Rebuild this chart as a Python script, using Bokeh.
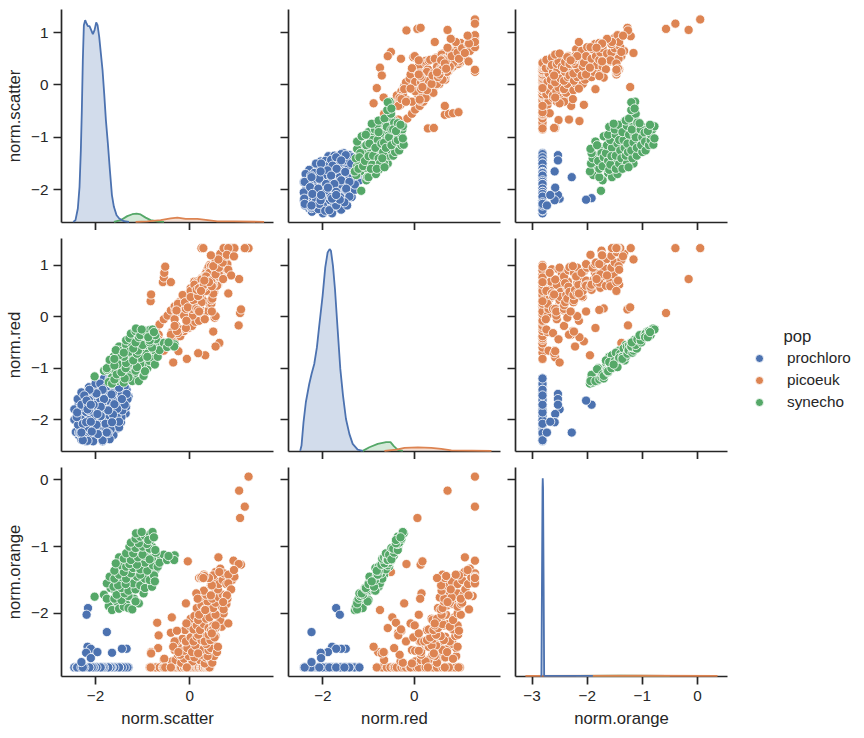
from bokeh.embed import file_html
from bokeh.resources import INLINE
from bokeh.plotting import figure
from bokeh.layouts import column, row
from bokeh.models import Range1d, FixedTicker, Legend, LegendItem, Label

populations = ["prochloro", "picoeuk", "synecho"]
colors = ["#4c72b0", "#dd8452", "#55a868"]
variables = ["norm.scatter", "norm.red", "norm.orange"]

# (norm.scatter, norm.red, norm.orange)
prochloro = [
    (-1.36,-1.88,-2.81),(-1.36,-1.65,-2.81),(-1.36,-1.47,-2.81),
    (-1.46,-2.05,-2.81),(-1.46,-1.86,-2.81),(-1.46,-1.63,-2.81),(-1.46,-1.42,-2.81),
    (-1.56,-2.18,-2.81),(-1.56,-1.98,-2.81),(-1.56,-1.77,-2.81),(-1.56,-1.55,-2.81),(-1.56,-1.35,-2.81),
    (-1.65,-2.28,-2.81),(-1.65,-2.10,-2.81),(-1.65,-1.92,-2.81),(-1.65,-1.73,-2.81),(-1.65,-1.56,-2.81),(-1.65,-1.38,-2.81),(-1.65,-1.25,-2.81),
    (-1.76,-2.35,-2.81),(-1.76,-2.17,-2.81),(-1.76,-1.97,-2.81),(-1.76,-1.81,-2.81),(-1.76,-1.63,-2.81),(-1.76,-1.46,-2.81),(-1.76,-1.28,-2.81),
    (-1.86,-2.38,-2.81),(-1.86,-2.22,-2.81),(-1.86,-2.02,-2.81),(-1.86,-1.85,-2.81),(-1.86,-1.67,-2.81),(-1.86,-1.50,-2.81),(-1.86,-1.33,-2.81),
    (-1.96,-2.36,-2.81),(-1.96,-2.17,-2.81),(-1.96,-1.99,-2.81),(-1.96,-1.81,-2.81),(-1.96,-1.63,-2.81),(-1.96,-1.42,-2.81),(-1.96,-1.35,-2.81),
    (-2.06,-2.37,-2.81),(-2.06,-2.20,-2.81),(-2.06,-2.02,-2.81),(-2.06,-1.84,-2.81),(-2.06,-1.65,-2.81),(-2.06,-1.47,-2.81),(-2.06,-1.38,-2.81),
    (-2.16,-2.33,-2.81),(-2.16,-2.12,-2.81),(-2.16,-1.94,-2.81),(-2.16,-1.75,-2.81),(-2.16,-1.57,-2.81),(-2.16,-1.46,-2.81),
    (-2.26,-2.35,-2.81),(-2.26,-2.16,-2.81),(-2.26,-1.97,-2.81),(-2.26,-1.79,-2.81),(-2.26,-1.62,-2.81),(-2.26,-1.50,-2.81),
    (-2.36,-2.30,-2.81),(-2.36,-2.12,-2.81),(-2.36,-1.92,-2.81),(-2.36,-1.72,-2.81),(-2.36,-1.60,-2.81),
    (-1.30,-1.55,-2.81),(-1.34,-1.42,-2.81),(-1.38,-1.36,-2.81),(-1.35,-1.75,-2.81),(-1.45,-1.95,-2.81),
    (-1.50,-2.15,-2.81),(-1.62,-2.30,-2.81),(-1.70,-2.38,-2.81),(-1.85,-2.42,-2.81),(-2.05,-2.42,-2.81),
    (-2.20,-2.42,-2.81),(-2.30,-2.39,-2.81),(-2.42,-2.24,-2.81),(-2.45,-2.00,-2.81),(-2.45,-1.80,-2.81),
    (-2.38,-1.60,-2.81),(-2.30,-1.47,-2.81),(-2.14,-1.37,-2.81),(-2.00,-1.30,-2.81),(-1.82,-1.20,-2.81),
    (-1.70,-1.20,-2.81),(-1.58,-1.22,-2.81),(-1.45,-1.28,-2.81),
    (-1.50,-1.65,-2.81),(-1.55,-1.95,-2.81),(-1.60,-1.45,-2.81),(-1.70,-1.45,-2.81),(-1.90,-1.30,-2.81),
    (-1.90,-1.60,-2.81),(-2.00,-1.50,-2.81),(-2.10,-1.70,-2.81),(-2.20,-1.60,-2.81),(-2.20,-1.85,-2.81),
    (-2.30,-1.75,-2.81),(-2.30,-2.00,-2.81),(-2.00,-2.20,-2.81),(-2.20,-2.15,-2.81),(-2.35,-2.25,-2.81),
    (-1.75,-1.35,-2.81),(-1.90,-2.30,-2.81),(-1.45,-1.70,-2.81),(-2.37,-2.10,-2.81),(-2.40,-1.95,-2.81),
    (-1.32,-1.60,-2.81),(-1.43,-1.82,-2.81),(-1.38,-1.71,-2.81),(-1.44,-1.49,-2.81),(-1.50,-2.04,-2.81),
    (-1.54,-1.79,-2.81),(-1.50,-1.38,-2.81),(-1.68,-2.19,-2.81),(-1.63,-1.90,-2.81),(-1.60,-1.70,-2.81),
    (-1.66,-1.51,-2.81),(-1.66,-1.31,-2.81),(-1.68,-1.20,-2.81),(-1.85,-2.40,-2.81),(-1.73,-2.26,-2.81),
    (-1.79,-2.08,-2.81),(-1.73,-1.82,-2.81),(-1.82,-1.60,-2.81),(-1.85,-1.42,-2.81),(-1.95,-2.28,-2.81),
    (-1.98,-2.10,-2.81),(-1.89,-1.93,-2.81),(-1.89,-1.75,-2.81),(-1.98,-1.49,-2.81),(-2.04,-1.93,-2.81),
    (-2.04,-1.71,-2.81),(-2.17,-2.41,-2.81),(-2.08,-2.23,-2.81),(-2.14,-2.01,-2.81),(-2.14,-1.82,-2.81),
    (-2.14,-1.62,-2.81),(-2.13,-1.42,-2.81),(-2.32,-2.26,-2.81),(-2.27,-2.08,-2.81),(-2.39,-1.86,-2.81),
    (-2.30,-1.71,-2.81),(-2.24,-1.53,-2.81),(-2.27,-2.40,-2.81),
    (-2.16,-1.71,-1.92),(-2.19,-1.63,-2.02),(-1.76,-2.25,-2.28),(-2.17,-1.80,-2.50),(-1.34,-1.50,-2.53),
    (-1.44,-1.60,-2.53),(-2.10,-1.71,-2.53),(-1.96,-1.89,-2.58),(-1.65,-2.05,-2.59),(-2.20,-2.05,-2.59),
    (-2.10,-2.04,-2.67),(-2.30,-2.25,-2.73),
]
picoeuk = [
    (-.85,-.82,-2.81),(-.78,-.40,-2.81),(-.70,-.70,-2.81),(-.72,-.25,-2.81),(-.62,-.60,-2.81),(-.64,-.15,-2.81),
    (-.55,-.50,-2.81),(-.55,-.05,-2.81),(-.46,-.52,-2.81),(-.47,.02,-2.81),(-.38,-.45,-2.81),(-.40,.12,-2.81),
    (-.30,-.42,-2.81),(-.32,.20,-2.81),(-.28,-.18,-2.81),(-.22,.28,-2.81),(-.20,-.38,-2.81),(-.18,.08,-2.81),
    (-.12,-.28,-2.81),(-.12,.38,-2.81),(-.08,.10,-2.81),(-.03,-.22,-2.81),(-.02,.45,-2.81),(.02,.05,-2.81),
    (.05,-.18,-2.81),(.08,.25,-2.81),(.10,.55,-2.81),(.12,-.10,-2.81),(.16,.32,-2.81),(.18,.68,-2.81),(.20,-.08,-2.81),
    (.24,.42,-2.81),(.26,.75,-2.81),(.28,.05,-2.81),(.32,.50,-2.81),(.33,.82,-2.81),(.36,.10,-2.81),(.38,.62,-2.81),
    (.40,.90,-2.81),(.42,.25,-2.81),(.43,.72,-2.81),(.42,1.0,-2.81),
    (-.38,-.30,-2.72),(-.30,.12,-2.70),(-.18,-.25,-2.74),(-.12,.35,-2.68),(.06,.02,-2.72),(.14,.55,-2.66),(.22,.15,-2.70),
    (.32,-.05,-2.75),(.34,.68,-2.66),(.46,.25,-2.72),(.44,.85,-2.68),(.48,.50,-2.74),(.52,.72,-2.64),(-.02,.45,-2.64),
    (.10,.68,-2.66),(-.25,-.32,-2.62),(.25,.40,-2.62),(.38,.92,-2.64),(-.20,.15,-2.62),
    (-.32,-.05,-2.55),(-.25,.25,-2.50),(-.12,.02,-2.56),(-.05,.42,-2.52),(.05,.15,-2.58),(.15,.58,-2.50),(.22,.10,-2.56),
    (.30,.30,-2.48),(.28,.72,-2.54),(.46,.32,-2.50),(.40,.62,-2.55),(.52,.48,-2.48),(.45,.92,-2.52),(.58,.72,-2.58),
    (.12,.38,-2.48),(.35,.85,-2.46),(.60,.95,-2.50),
    (-.28,.12,-2.42),(-.15,.42,-2.38),(-.08,.15,-2.42),(.02,.55,-2.36),(.08,.22,-2.42),(.15,.68,-2.35),(.25,.28,-2.40),
    (.35,.55,-2.34),(.32,.78,-2.42),(.48,.35,-2.36),(.44,.65,-2.40),(.55,.90,-2.34),(.52,.58,-2.34),(.18,.48,-2.32),(.40,.96,-2.32),
    (-.10,.28,-2.25),(.02,.50,-2.20),(.08,.32,-2.24),(.15,.65,-2.18),(.22,.42,-2.25),(.30,.75,-2.16),(.40,.52,-2.22),
    (.50,.45,-2.18),(.48,.85,-2.24),(.60,.62,-2.16),(.62,.95,-2.18),(.68,.78,-2.20),(.45,.98,-2.26),
    (.02,.38,-2.08),(.10,.62,-2.04),(.18,.40,-2.10),(.28,.70,-2.02),(.35,.50,-2.08),(.45,.62,-2.00),(.42,.88,-2.06),
    (.58,.60,-2.02),(.65,.85,-2.10),(.72,.95,-2.00),(.55,1.02,-2.02),
    (.15,.52,-1.92),(.25,.72,-1.88),(.32,.58,-1.94),(.42,.85,-1.86),(.50,.62,-1.92),(.60,.78,-1.84),(.68,.95,-1.90),
    (.78,1.02,-1.86),(.72,1.20,-1.94),(.55,1.05,-1.84),(.38,.65,-1.82),
    (.22,.56,-1.76),(.35,.78,-1.72),(.48,.66,-1.78),(.52,.95,-1.70),(.62,.82,-1.76),(.70,1.08,-1.72),(.80,1.02,-1.78),
    (.78,1.28,-1.74),(.30,.60,-1.66),(.60,1.12,-1.64),
    (.45,.70,-1.58),(.55,.82,-1.52),(.62,.95,-1.56),(.70,1.05,-1.50),(.78,1.18,-1.56),(.85,1.25,-1.46),(.90,1.33,-1.50),
    (.20,.55,-1.47),(.30,.62,-1.42),(.55,1.10,-1.38),(.65,1.22,-1.33),(.72,1.33,-1.40),(.50,.98,-1.43),
    (1.25,1.33,.05),(1.05,.73,-.16),(1.17,1.33,-.40),(1.07,.07,-.57),(.93,1.33,-1.21),(1.09,.14,-1.27),(1.04,-.17,-1.26),
    (-.04,.18,-1.22),(.61,1.11,-1.16),(.95,1.33,-1.45),(.82,.91,-1.42),(.63,-.51,-1.38),(.82,1.33,-1.55),(.88,.80,-1.64),
    (.79,1.20,-1.73),(.82,.45,-2.15),(.71,.73,-1.83),(.47,.59,-1.58),(.41,.67,-1.47),(.31,.70,-1.44),(.24,.50,-1.47),
    (.14,.16,-1.70),(.17,.13,-1.78),(-.08,-.22,-1.85),(.20,.10,-2.02),(-.07,-.08,-2.15),(-.38,-.48,-2.06),(-.40,-.35,-2.29),
    (-.27,-.28,-2.26),(-.32,-.18,-2.42),(-.69,-.40,-2.14),(-.66,-.35,-2.33),(-.67,-.44,-2.52),(-.82,-.66,-2.59),
    (-.55,-.66,-2.70),(-.82,-.79,-2.58),(-.35,-.89,-2.50),(.55,-.58,-2.22),(.50,-.29,-2.24),(.53,-.02,-2.36),
    (.33,-.75,-1.95),(.18,-.71,-2.60),(-.06,-.82,-2.81),(-.24,-.67,-2.58),(-.83,.30,-2.81),(-.82,.43,-2.60),
    (-.57,.67,-2.81),(-.55,.76,-2.81),(-.54,.85,-2.68),(-.52,.97,-2.81),(-.40,.67,-2.81),(.25,1.33,-1.46),(.29,1.33,-1.47),
    (.45,1.19,-1.73),(.94,1.17,-1.35),(.55,.01,-2.18),(.47,.10,-2.30),
]
synecho = [
    (-1.65,-1.18,-1.85),(-1.55,-1.25,-1.82),(-1.35,-1.12,-1.86),(-1.18,-1.12,-1.78),(-1.68,-.95,-1.62),(-1.58,-1.05,-1.66),
    (-1.42,-.92,-1.65),(-1.25,-.98,-1.60),(-1.10,-.82,-1.62),(-.90,-1.0,-1.56),(-1.55,-.78,-1.50),(-1.42,-.95,-1.52),
    (-1.28,-.82,-1.50),(-1.15,-.88,-1.46),(-1.00,-.92,-1.50),(-.88,-.72,-1.42),(-1.45,-.62,-1.33),(-1.30,-.76,-1.34),
    (-1.15,-.62,-1.30),(-1.00,-.76,-1.30),(-.85,-.62,-1.32),(-.72,-.70,-1.34),(-1.50,-.58,-1.16),(-1.32,-.60,-1.18),
    (-1.15,-.54,-1.15),(-1.02,-.62,-1.18),(-.88,-.58,-1.10),(-.65,-.50,-1.13),(-1.20,-.38,-1.05),(-1.05,-.46,-1.06),
    (-.92,-.44,-1.02),(-.80,-.35,-1.00),(-1.18,-.35,-.97),(-1.0,-.30,-.92),(-.85,-.34,-.92),
    (-1.72,-1.27,-1.89),(-1.65,-1.30,-1.95),(-1.50,-1.20,-1.93),(-1.40,-1.28,-1.90),(-1.30,-1.13,-1.92),(-1.22,-1.25,-1.94),(-1.08,-1.25,-1.85),
    (-2.02,-1.16,-1.75),(-1.82,-1.05,-1.72),(-1.76,-1.03,-1.78),(-1.60,-1.22,-1.78),(-1.45,-1.00,-1.80),(-1.30,-1.18,-1.74),(-1.15,-1.02,-1.82),
    (-1.55,-1.12,-1.72),(-1.38,-1.20,-1.70),(-.98,-1.15,-1.70),
    (-1.76,-1.00,-1.55),(-1.62,-.78,-1.60),(-1.45,-1.08,-1.62),(-1.30,-.85,-1.66),(-1.15,-1.05,-1.64),(-1.52,-.92,-1.58),(-1.20,-.75,-1.55),
    (-1.05,-.92,-1.58),(-.95,-1.06,-1.62),(-1.36,-1.0,-1.56),(-.80,-.88,-1.60),
    (-1.70,-.84,-1.45),(-1.60,-.95,-1.48),(-1.50,-.66,-1.42),(-1.35,-.90,-1.48),(-1.12,-.98,-1.45),(-.95,-.70,-1.48),(-.85,-.86,-1.50),
    (-.76,-.82,-1.43),(-1.25,-.72,-1.40),(-1.40,-.78,-1.38),(-1.05,-.80,-1.42),(-.74,-.93,-1.52),
    (-1.50,-.75,-1.28),(-1.35,-.55,-1.30),(-1.20,-.85,-1.32),(-1.05,-.62,-1.34),(-.90,-.78,-1.36),(-.78,-.58,-1.28),(-.68,-.78,-1.30),
    (-1.60,-.82,-1.36),(-1.28,-.68,-1.26),(-.95,-.55,-1.24),(-1.12,-.72,-1.27),(-.64,-.65,-1.24),
    (-1.57,-.65,-1.25),(-1.40,-.70,-1.18),(-1.25,-.50,-1.20),(-1.10,-.66,-1.16),(-.95,-.45,-1.14),(-.80,-.60,-1.17),(-.55,-.51,-1.12),
    (-.48,-.59,-1.20),(-.32,-.54,-1.13),(-.33,-.58,-1.20),(-.45,-.50,-1.14),(-1.35,-.46,-1.10),(-1.2,-.62,-1.10),(-1.0,-.55,-1.12),
    (-.85,-.50,-1.19),(-.72,-.44,-1.09),
    (-1.28,-.42,-1.00),(-1.15,-.50,-1.02),(-1.00,-.36,-1.00),(-.85,-.46,-1.03),(-.73,-.36,-1.05),(-.91,-.36,-.96),(-1.25,-.33,-.94),(-1.08,-.40,-.95),
    (-1.15,-.28,-.88),(-1.05,-.36,-.85),(-.95,-.28,-.84),(-.85,-.26,-.82),(-.79,-.25,-.78),(-1.14,-.23,-.80),(-1.02,-.25,-.78),(-.88,-.40,-.90),(-.76,-.30,-.86),
]

# Density curves of the diagonal, as fractions of the panel height
kde_scatter_x = [
    [-2.475,-2.426,-2.376,-2.340,-2.312,-2.291,-2.270,-2.248,-2.220,-2.191,-2.163,-2.128,-2.092,-2.057,-2.021,-1.986,-1.957,-1.922,-1.887,-1.851,-1.816,-1.780,-1.738,-1.695,-1.652,-1.610,-1.553,-1.496,-1.397,-1.29],
    [-1.149,-.90,-.617,-.404,-.262,-.085,.163,.34,.589,.943,1.58],
    [-1.61,-1.468,-1.326,-1.22,-1.128,-1.043,-.936,-.83,-.688,-.546],
]
kde_scatter_y = [
    [0,.008,.063,.165,.338,.526,.761,.926,.950,.934,.922,.922,.903,.884,.903,.939,.926,.871,.793,.714,.604,.479,.369,.243,.126,.071,.031,.016,.003,0],
    [0,.002,.008,.016,.02,.014,.014,.009,.002,.002,0],
    [0,.008,.027,.036,.039,.035,.02,.008,.002,0],
]
kde_red_x = [
    [-2.498,-2.469,-2.425,-2.374,-2.30,-2.249,-2.19,-2.132,-2.081,-2.007,-1.949,-1.897,-1.853,-1.824,-1.78,-1.736,-1.678,-1.619,-1.56,-1.495,-1.421,-1.348,-1.238,-1.128],
    [-.652,-.396,-.212,.081,.374,.593,.813,1.692],
    [-1.128,-.982,-.799,-.615,-.520,-.447,-.359,-.249],
]
kde_red_y = [
    [0,.025,.135,.229,.315,.362,.409,.487,.589,.730,.864,.934,.950,.942,.871,.762,.574,.386,.260,.150,.080,.033,.006,0],
    [0,.006,.014,.016,.014,.009,.002,0],
    [0,.017,.033,.041,.041,.022,.005,0],
]
kde_orange_x = [
    [-2.85,-2.83,-2.81,-2.806,-2.80,-2.78,-2.75,-1.897],
    [-3.12,-1.0,.364],
    [-2.2,-1.4,-.5],
]
kde_orange_y = [
    [0,0,.90,.948,.90,0,0,0],
    [0,.001,0],
    [0,.001,0],
]
kde_x = [kde_scatter_x, kde_red_x, kde_orange_x]
kde_y = [kde_scatter_y, kde_red_y, kde_orange_y]

x_limits = [(-2.723, 1.78), (-2.754, 1.89), (-3.30, 0.545)]
y_limits = [(-2.625, 1.44), (-2.618, 1.517), (-2.946, 0.187)]
x_ticks = [[-2, 0], [-2, 0], [-3, -2, -1, 0]]
y_ticks = [[-2, -1, 0, 1], [-2, -1, 0, 1], [-2, -1, 0]]

INK = "#262626"
FONT = "Liberation Sans"
LEFT = [61, 8, 8]
RIGHT = [7, 7, 7]
TOP = [9, 8, 8]
BOTTOM = [8, 8, 50]
FRAME = (212, 213)
series = {"prochloro": prochloro, "picoeuk": picoeuk, "synecho": synecho}
columns = {name: list(zip(*pts)) for name, pts in series.items()}


def label_map(ticks, blank):
    return {t: ("" if blank else str(t).replace("-", "\u2212")) for t in ticks}


def panel(r, c):
    p = figure(
        width=LEFT[c] + FRAME[0] + RIGHT[c], height=TOP[r] + FRAME[1] + BOTTOM[r],
        x_range=Range1d(*x_limits[c]), y_range=Range1d(*y_limits[r]),
        min_border_left=LEFT[c], min_border_right=RIGHT[c],
        min_border_top=TOP[r], min_border_bottom=BOTTOM[r],
        toolbar_location=None, output_backend="svg", outline_line_color=None,
    )
    p.grid.visible = False
    for ax, ticks, blank, name, label_gap, name_gap in (
        (p.xaxis[0], x_ticks[c], r != 2, variables[c] if r == 2 else None, 6, 5),
        (p.yaxis[0], y_ticks[r], c != 0, variables[r] if c == 0 else None, 5, 4),
    ):
        ax.ticker = FixedTicker(ticks=ticks)
        ax.major_label_overrides = label_map(ticks, blank)
        ax.minor_tick_line_color = None
        ax.major_tick_in = 0
        ax.major_tick_out = 8
        ax.major_tick_line_width = 1.7
        ax.major_tick_line_color = INK
        ax.axis_line_width = 1.7
        ax.axis_line_color = INK
        ax.major_label_text_color = INK
        ax.major_label_text_font = FONT
        ax.major_label_text_font_size = "0px" if blank else "15.3px"
        ax.major_label_standoff = 0 if blank else label_gap
        if name:
            ax.axis_label = name
            ax.axis_label_text_font = FONT
            ax.axis_label_text_font_size = "16.7px"
            ax.axis_label_text_font_style = "normal"
            ax.axis_label_text_color = INK
            ax.axis_label_standoff = name_gap
    return p


figs = []
for r in range(3):
    line = []
    for c in range(3):
        p = panel(r, c)
        if r == c:
            p.extra_y_ranges = {"density": Range1d(-0.003, 1)}
            for i in (2, 1, 0):
                xs, ys = kde_x[c][i], kde_y[c][i]
                p.varea(xs, [0] * len(xs), ys, fill_color=colors[i], fill_alpha=0.25, y_range_name="density")
                p.line(xs, ys, line_color=colors[i], line_width=1.8, y_range_name="density", level="overlay")
        else:
            for i, name in enumerate(populations):
                p.scatter(list(columns[name][c]), list(columns[name][r]), size=9.2,
                          fill_color=colors[i], line_color="white", line_width=0.8)
        line.append(p)
    figs.append(line)

# Legend lives in its own figure to the right of the middle row; its view is
# far from the data, so only the legend and its title are seen.
key = figure(width=120, height=TOP[1] + FRAME[1] + BOTTOM[1], x_range=Range1d(100, 101), y_range=Range1d(100, 101),
             min_border_left=0, min_border_right=0, min_border_top=0, min_border_bottom=0,
             toolbar_location=None, output_backend="svg", outline_line_color=None)
key.axis.visible = False
key.grid.visible = False
items = []
for i, name in enumerate(populations):
    g = key.scatter(list(columns[name][0]), list(columns[name][1]), size=9.2,
                    fill_color=colors[i], line_color="white", line_width=0.8)
    items.append(LegendItem(label=name, renderers=[g]))
key.add_layout(Legend(
    items=items, location=(15, 39), orientation="vertical", border_line_color=None, background_fill_color=None,
    margin=0, padding=0, spacing=2, glyph_width=20, glyph_height=20, label_standoff=18,
    label_text_font=FONT, label_text_font_size="15.3px", label_text_color=INK, label_height=20,
), "center")
key.add_layout(Label(x=49, y=106, x_units="screen", y_units="screen", text="pop",
                     text_font=FONT, text_font_size="16.7px", text_color=INK))

page = column(row(*figs[0]), row(*figs[1], key), row(*figs[2]))
open("out.html", "w").write(file_html(page, INLINE))
